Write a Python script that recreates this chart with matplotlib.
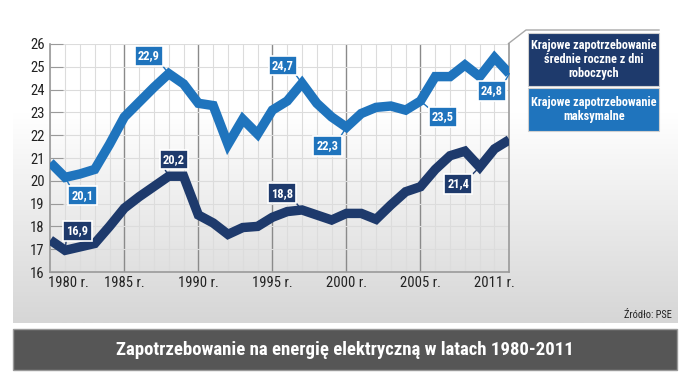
import numpy as np
import matplotlib
matplotlib.use("Agg")
import matplotlib.pyplot as plt
from matplotlib import font_manager
from matplotlib.patches import Rectangle
from matplotlib.colors import LinearSegmentedColormap

# ---------------- data ----------------
years = list(range(1980, 2012))
max_demand = [20.8, 20.15, 20.3, 20.5, 21.6, 22.8, 23.45, 24.1, 24.7, 24.25,
              23.4, 23.3, 21.6, 22.7, 22.05, 23.1, 23.5, 24.28, 23.4, 22.8,
              22.35, 22.95, 23.22, 23.28, 23.1, 23.5, 24.57, 24.57, 25.08, 24.57,
              25.4, 24.7]
avg_demand = [17.4, 16.95, 17.1, 17.25, 18.0, 18.8, 19.3, 19.75, 20.2, 20.2,
              18.5, 18.15, 17.65, 17.95, 18.0, 18.4, 18.65, 18.72, 18.5, 18.28,
              18.57, 18.57, 18.31, 18.94, 19.52, 19.74, 20.5, 21.1, 21.3, 20.6,
              21.4, 21.8]

max_labels = ["22,9", "20,1", "24,7", "22,3", "23,5", "24,8"]
max_label_years = [1988, 1981, 1997, 2000, 2005, 2011]
avg_labels = ["20,2", "16,9", "18,8", "21,4"]
avg_label_years = [1988, 1981, 1997, 2009]

x_tick_labels = ["1980 r.", "1985 r.", "1990 r.", "1995 r.", "2000 r.", "2005 r.", "2011 r."]
y_ticks = list(range(16, 27))

legend_avg = "Krajowe zapotrzebowanie\nśrednie roczne z dni\nroboczych"
legend_max = "Krajowe zapotrzebowanie\nmaksymalne"
title = "Zapotrzebowanie na energię elektryczną w latach 1980-2011"
source = "Źródło: PSE"

# ---------------- fonts ----------------
available = {f.name for f in font_manager.fontManager.ttflist}
prefs = ["Liberation Sans Narrow", "Roboto Condensed", "Open Sans Condensed",
         "DejaVu Sans Condensed", "Noto Sans", "DejaVu Sans"]
fam = [p for p in prefs if p in available] + ["DejaVu Sans"]
plt.rcParams["font.family"] = fam

LIGHT = "#1f74bd"
DARK = "#1e3a6c"
W, H = 687, 382

fig = plt.figure(figsize=(W / 100, H / 100), dpi=100)

# background (pixel coordinates)
bg = fig.add_axes([0, 0, 1, 1], zorder=0)
bg.set_xlim(0, W)
bg.set_ylim(H, 0)
bg.axis("off")
grad = np.linspace(0, 1, 256)
grad = np.clip((grad - 0.35) / 0.65, 0, 1)[:, None]
cmap = LinearSegmentedColormap.from_list("g", ["#ffffff", "#d6d6d6"])
bg.imshow(grad, cmap=cmap, extent=[12.7, 677, 322.7, 0], aspect="auto", zorder=0)
bg.add_patch(Rectangle((12.7, 329.3), 677 - 12.7, 40.7, facecolor="#565656",
                       edgecolor="#9a9a9a", linewidth=1, zorder=1))
bg.text(345, 350, title, color="white", fontsize=13.5, fontweight="bold",
        ha="center", va="center", zorder=2)
bg.text(672, 315, source, color="#222222", fontsize=7.5, ha="right", va="center", zorder=2)

# legend boxes
bg.plot([508.5, 526, 659], [43.5, 30, 30], color="#a8a8a8", lw=1, zorder=1)
bg.add_patch(Rectangle((528.3, 33.3), 131, 52.4, facecolor=DARK, edgecolor="#d0d0d0",
                       lw=0.8, zorder=1))
bg.add_patch(Rectangle((528.3, 88.3), 131, 42.7, facecolor=LIGHT, edgecolor="#d0d0d0",
                       lw=0.8, zorder=1))
bg.text(594, 59.5, legend_avg, color="white", fontsize=8.8, fontweight="bold",
        ha="center", va="center", linespacing=1.15, zorder=2)
bg.text(594, 109.5, legend_max, color="white", fontsize=8.8, fontweight="bold",
        ha="center", va="center", linespacing=1.15, zorder=2)

# main axes
left, right = 50.3 / W, 509.3 / W
bottom, top = 1 - 272 / H, 1 - 44 / H
ax = fig.add_axes([left, bottom, right - left, top - bottom], zorder=1)
ax.set_facecolor("none")
ax.set_xlim(1980, 2011)
ax.set_ylim(16, 26)

for y in years:
    major = (y % 5 == 0) and 1985 <= y <= 2005
    ax.axvline(y, color="#8a8a8a" if major else "#dcdcdc", lw=1.0 if major else 0.8, zorder=0)
for v in y_ticks:
    ax.axhline(v, color="#dcdcdc", lw=0.8, zorder=0)

ax.plot(years, max_demand, color=LIGHT, lw=6.8, solid_joinstyle="miter",
        solid_capstyle="butt", zorder=3)
ax.plot(years, avg_demand, color=DARK, lw=6.8, solid_joinstyle="miter",
        solid_capstyle="butt", zorder=3)

ax.spines["top"].set_visible(False)
for s in ["left", "bottom", "right"]:
    ax.spines[s].set_color("#9a9a9a")
    ax.spines[s].set_linewidth(1.2)

ax.set_yticks(y_ticks)
ax.set_yticklabels([str(v) for v in y_ticks])
ax.tick_params(axis="y", direction="in", length=9, color="#9a9a9a", labelsize=10.5,
               labelcolor="#222222", pad=4)
ax.set_xticks([1981.25, 1985, 1990, 1995, 2000, 2005, 2010])
ax.set_xticklabels(x_tick_labels)
ax.tick_params(axis="x", length=0, labelsize=10.5, labelcolor="#222222", pad=3)

# callouts
def lookup(series, yr):
    return series[years.index(yr)]

max_box = [(1986.67, 25.47, (1, 0)), (1982.18, 19.36, (0, 1)), (1995.69, 25.06, (1, 0)),
           (1998.73, 21.53, (1, 1)), (2006.5, 22.8, (0, 1)), (2009.84, 23.94, (1, 1))]
avg_box = [(1988.36, 20.93, (0, 0)), (1981.84, 17.8, (0, 0)), (1995.66, 19.46, (1, 0)),
           (2007.55, 19.86, (1, 1))]

def callout(series, labels, yrs, boxes, color):
    for lab, yr, (bx, by, rel) in zip(labels, yrs, boxes):
        ax.annotate(lab, xy=(yr, lookup(series, yr)), xytext=(bx, by),
                    textcoords="data", ha="center", va="center",
                    color="white", fontsize=9, fontweight="bold",
                    bbox=dict(boxstyle="square,pad=0.25", facecolor=color,
                              edgecolor="white", lw=1.2),
                    arrowprops=dict(arrowstyle="-", color=color, lw=1.0,
                                    relpos=rel, shrinkA=0, shrinkB=0),
                    zorder=5, annotation_clip=False)

callout(max_demand, max_labels, max_label_years, max_box, LIGHT)
callout(avg_demand, avg_labels, avg_label_years, avg_box, DARK)

fig.savefig("out.png", dpi=100)
